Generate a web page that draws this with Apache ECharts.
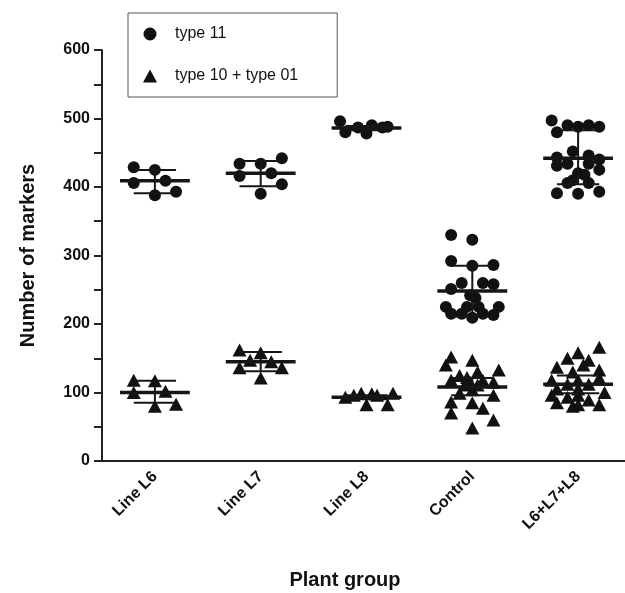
<!DOCTYPE html>
<html lang="en">
<head>
    <meta charset="UTF-8">
    <title>Number of markers by plant group</title>
    <script src="https://cdn.jsdelivr.net/npm/echarts@6/dist/echarts.min.js"></script>
    <style>
        html, body {
            margin: 0;
            height: 100%;
            background: #fff;
        }
    </style>
</head>
<body>
<div id="main" style="width: 625px;height: 593px"></div>
<script>
    // groups on the x axis
    var groups = ['Line L6', 'Line L7', 'Line L8', 'Control', 'L6+L7+L8'];

    // type 11 points: [jitter within the group, value]
    var circleL6 = [[-0.2, 429], [0, 425], [-0.2, 406], [0.1, 409], [0, 388], [0.2, 393]];
    var circleL7 = [[-0.2, 434], [0, 434], [0.2, 442], [-0.2, 416], [0.1, 420], [0.2, 404], [0, 390]];
    var circleL8 = [[-0.25, 496], [-0.2, 480], [-0.08, 487], [0, 478], [0.05, 490], [0.15, 487], [0.2, 488]];
    var circleCtrl = [[-0.2, 330], [0, 323], [-0.2, 292], [0, 285], [0.2, 286], [-0.1, 260], [0.1, 260],
        [0.2, 258], [-0.2, 251], [-0.02, 242], [0.03, 238], [-0.05, 225], [0.06, 225], [-0.25, 225],
        [0.25, 225], [-0.2, 215], [-0.1, 215], [0, 209], [0.1, 215], [0.2, 213]];
    var circleAll = [[-0.25, 497], [-0.1, 490], [0, 488], [0.1, 490], [0.2, 488], [-0.2, 480], [-0.2, 443],
        [0.1, 446], [0.2, 440], [-0.05, 452], [-0.2, 431], [-0.1, 434], [0.1, 434], [0.2, 425], [0, 420],
        [0.06, 418], [-0.05, 410], [-0.1, 406], [0.1, 406], [-0.2, 391], [0, 390], [0.2, 393]];

    // type 10 + type 01 points
    var triL6 = [[-0.2, 118], [0, 117], [-0.2, 100], [0.1, 102], [0, 80], [0.2, 83]];
    var triL7 = [[-0.2, 162], [0, 158], [-0.1, 147], [0.1, 145], [-0.2, 136], [0.2, 136], [0, 121]];
    var triL8 = [[-0.2, 93], [-0.12, 96], [-0.05, 99], [0, 82], [0.05, 98], [0.1, 96], [0.2, 82], [0.25, 99]];
    var triCtrl = [[-0.2, 152], [0, 147], [-0.25, 140], [0.25, 133], [-0.12, 125], [0.05, 130], [-0.2, 118],
        [-0.02, 115], [0.1, 118], [0.2, 115], [-0.07, 111], [0.05, 111], [-0.05, 122], [0, 104], [-0.12, 99],
        [0.2, 96], [-0.2, 86], [0, 85], [0.1, 77], [-0.2, 70], [0.2, 60], [0, 48]];
    var triAll = [[0.2, 166], [0, 158], [-0.1, 150], [0.1, 147], [-0.2, 137], [0.05, 140], [-0.05, 130],
        [0.2, 133], [-0.25, 118], [0, 118], [0.2, 121], [-0.1, 112], [0.1, 112], [-0.2, 105], [0, 105],
        [0.25, 100], [-0.25, 96], [-0.1, 93], [0, 96], [0.1, 89], [-0.2, 85], [0, 82], [0.2, 82], [-0.05, 80]];

    // mean and error bar ends
    var circleMean = [409, 420, 486, 248, 442];
    var circleLow = [391, 401, 483, 211, 404];
    var circleHigh = [425, 438, 489, 285, 483];
    var triMean = [100, 145, 93, 108, 112];
    var triLow = [85, 131, 90, 96, 99];
    var triHigh = [117, 159, 96, 121, 125];

    var yTicks = [0, 100, 200, 300, 400, 500, 600];

    function place(sets) {
        var out = [];
        sets.forEach(function (set, gi) {
            set.forEach(function (p) {
                out.push([gi + p[0], p[1]]);
            });
        });
        return out;
    }

    function bars(mean, low, high) {
        return mean.map(function (m, i) {
            return [i, m, low[i], high[i]];
        });
    }

    function renderBar(params, api) {
        var x = api.value(0);
        var mean = api.coord([x, api.value(1)]);
        var low = api.coord([x, api.value(2)]);
        var high = api.coord([x, api.value(3)]);
        var unit = api.size([1, 0])[0];
        var style = {stroke: '#161616', lineWidth: 2};
        return {
            type: 'group',
            children: [
                {type: 'line', shape: {x1: mean[0] - unit * 0.33, y1: mean[1], x2: mean[0] + unit * 0.33, y2: mean[1]},
                    style: {stroke: '#161616', lineWidth: 3.5}},
                {type: 'line', shape: {x1: low[0], y1: low[1], x2: high[0], y2: high[1]}, style: style},
                {type: 'line', shape: {x1: low[0] - unit * 0.2, y1: low[1], x2: low[0] + unit * 0.2, y2: low[1]}, style: style},
                {type: 'line', shape: {x1: high[0] - unit * 0.2, y1: high[1], x2: high[0] + unit * 0.2, y2: high[1]}, style: style}
            ]
        };
    }

    var myChart = echarts.init(document.getElementById('main'));
    var font = '"Liberation Sans", Arial, sans-serif';

    var option = {
        backgroundColor: '#fff',
        animation: false,
        textStyle: {fontFamily: font},
        legend: {
            orient: 'vertical',
            left: 128,
            top: 13,
            padding: [13, 39, 13, 15],
            itemGap: 26,
            itemWidth: 14,
            itemHeight: 13,
            borderColor: '#555',
            borderWidth: 1,
            textStyle: {fontSize: 16, color: '#111', fontFamily: font, padding: [0, 0, 0, 13]},
            data: [
                {name: 'type 11', icon: 'circle'},
                {name: 'type 10 + type 01', icon: 'triangle'}
            ]
        },
        // the plot runs a little past the right edge of the picture
        grid: {left: 102, width: 529, top: 50, bottom: 132, outerBoundsMode: 'none'},
        xAxis: [{
            type: 'category',
            data: groups,
            boundaryGap: true,
            axisLine: {lineStyle: {color: '#222', width: 2}},
            axisTick: {alignWithLabel: true, length: 9, lineStyle: {color: '#222', width: 2}},
            axisLabel: {
                interval: 0,
                rotate: 45,
                margin: 13,
                fontSize: 16,
                fontWeight: 'bold',
                color: '#111',
                fontFamily: font
            }
        }, {
            type: 'value',
            min: -0.5,
            max: 4.5,
            show: false
        }],
        yAxis: {
            type: 'value',
            min: yTicks[0],
            max: yTicks[yTicks.length - 1],
            interval: 100,
            name: 'Number of markers',
            nameLocation: 'middle',
            nameGap: 64,
            nameTextStyle: {fontSize: 20, fontWeight: 'bold', color: '#111', fontFamily: font},
            axisLine: {show: true, onZero: false, lineStyle: {color: '#222', width: 2}},
            axisTick: {show: true, length: 8, lineStyle: {color: '#222', width: 2}},
            minorTick: {show: true, splitNumber: 2, length: 8, lineStyle: {color: '#222', width: 2}},
            splitLine: {show: false},
            axisLabel: {margin: 12, fontSize: 16, fontWeight: 'bold', color: '#111', fontFamily: font}
        },
        graphic: [{
            type: 'text',
            x: 345,
            y: 580,
            style: {
                text: 'Plant group',
                align: 'center',
                verticalAlign: 'middle',
                fontSize: 20,
                fontWeight: 'bold',
                fill: '#111',
                fontFamily: font
            }
        }],
        series: [{
            name: 'type 11',
            type: 'scatter',
            xAxisIndex: 1,
            symbol: 'circle',
            symbolSize: 12,
            itemStyle: {color: '#111', opacity: 1},
            data: place([circleL6, circleL7, circleL8, circleCtrl, circleAll])
        }, {
            name: 'type 10 + type 01',
            type: 'scatter',
            xAxisIndex: 1,
            symbol: 'triangle',
            symbolSize: [14, 13],
            itemStyle: {color: '#111', opacity: 1},
            data: place([triL6, triL7, triL8, triCtrl, triAll])
        }, {
            name: 'bars11',
            type: 'custom',
            xAxisIndex: 1,
            renderItem: renderBar,
            encode: {x: 0, y: [1, 2, 3]},
            z: 3,
            data: bars(circleMean, circleLow, circleHigh)
        }, {
            name: 'bars10',
            type: 'custom',
            xAxisIndex: 1,
            renderItem: renderBar,
            encode: {x: 0, y: [1, 2, 3]},
            z: 3,
            data: bars(triMean, triLow, triHigh)
        }]
    };

    myChart.setOption(option);
</script>
</body>
</html>
